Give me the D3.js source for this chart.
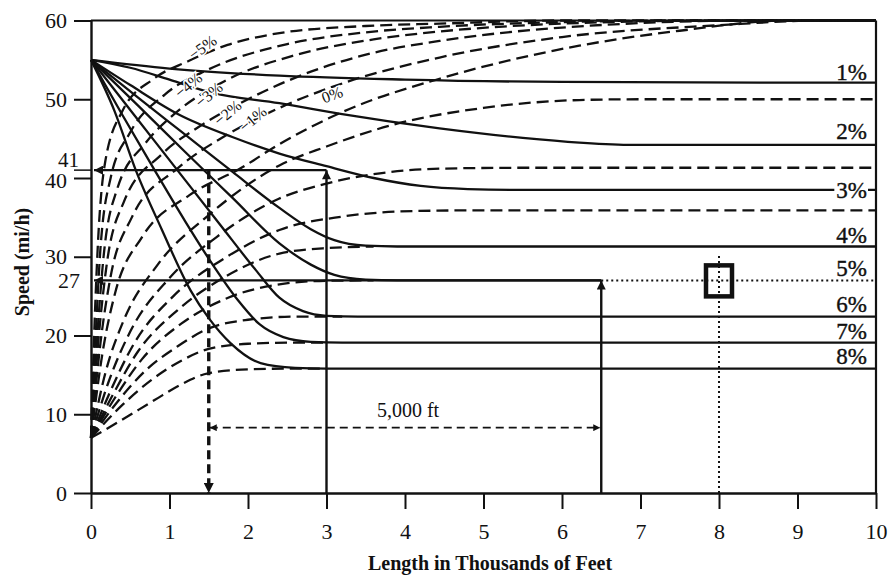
<!DOCTYPE html>
<html><head><meta charset="utf-8">
<script src="https://cdn.jsdelivr.net/npm/d3@7/dist/d3.min.js"></script>
<style>
body{margin:0;background:#fff}
svg{display:block}
text{font-family:"Liberation Serif","Times New Roman",serif;fill:#111}
</style>
</head><body>
<svg id="c" width="891" height="576"></svg>
<script>
// ---------- data ----------
const xTicks = [0,1,2,3,4,5,6,7,8,9,10];
const yTicks = [0,10,20,30,40,50,60];
const xTitle = "Length in Thousands of Feet";
const yTitle = "Speed (mi/h)";

// deceleration curves (solid), [length (1000 ft), speed (mi/h)]
const decel1 = [[0,55],[1,53.9],[2.4,53.0],[4,52.5],[6,52.2],[10,52.1]];
const decel2 = [[0,55],[0.5,54],[1,52.5],[1.55,50.8],[2.4,49.5],[3.2,48.1],[4.44,46.3],[5.5,45.1],[6.22,44.5],[6.9,44.2],[10,44.2]];
const decel3 = [[0,55],[0.5,51.8],[1.13,48.0],[1.8,45.2],[2.4,43.1],[3,41.5],[3.6,40.0],[4.2,39.0],[4.8,38.6],[5.4,38.5],[10,38.5]];
const decel4 = [[0,55],[0.6,50.2],[1.2,45.5],[1.8,40.8],[2.4,36.2],[2.8,33.5],[3.1,32.1],[3.5,31.4],[3.9,31.3],[10,31.3]];
const decel5 = [[0,55],[0.6,49.2],[1.2,43.3],[1.8,37.5],[2.4,31.7],[2.8,29.0],[3.1,27.7],[3.5,27.1],[3.9,27.0],[6.5,27.0]];
const decel6 = [[0,55],[0.55,48],[1.1,41],[1.65,34],[2.1,28.3],[2.4,24.8],[2.7,23.1],[3.0,22.5],[3.4,22.4],[10,22.4]];
const decel7 = [[0,55],[0.4,48],[0.81,41],[1.2,34.5],[1.55,29],[1.87,24.5],[2.15,21.4],[2.45,19.8],[2.8,19.2],[3.2,19.1],[10,19.1]];
const decel8 = [[0,55],[0.3,48.5],[0.57,41],[0.9,33.5],[1.27,25.7],[1.5,22.2],[1.78,19],[2.16,16.5],[2.6,15.9],[3,15.8],[10,15.8]];
const decelGrades = ["1%","2%","3%","4%","5%","6%","7%","8%"];
// label baseline speed for right-hand grade labels
const decelLabelSpeed = [52.4,44.9,37.5,31.7,27.6,23.0,19.6,16.4];

// acceleration curves (dashed)
const accelM5 = [[0,7],[0.04,20],[0.09,32],[0.18,42],[0.4,48.5],[0.8,52.6],[1.23,54.8],[1.74,56.9],[2.4,58.4],[3.5,59.3],[4.44,59.6],[6,60],[10,60]];
const accelM4 = [[0,7],[0.06,20],[0.12,31],[0.25,40],[0.5,45.8],[0.94,50.6],[1.5,53.8],[2.5,57.0],[3.5,58.5],[4.44,59.2],[6,59.8],[7.5,60],[10,60]];
const accelM3 = [[0,7],[0.08,20],[0.16,30],[0.33,38.5],[0.7,44.5],[1.07,48.2],[1.7,52.3],[2.6,55.6],[3.6,57.6],[4.44,58.6],[6,59.6],[8,60],[10,60]];
const accelM2 = [[0,7],[0.1,20],[0.2,29],[0.42,37],[0.9,43],[1.39,46.6],[2,50],[2.8,53.5],[3.6,55.9],[4.44,57.4],[6,59.1],[8.5,60],[10,60]];
const accelM1 = [[0,7],[0.12,19],[0.25,27.5],[0.52,35],[1.1,41.2],[1.7,45.3],[2.4,48.9],[3.2,52.0],[4.44,55.3],[6,57.9],[8,59.4],[9.3,60],[10,60]];
const accel0  = [[0,7],[0.15,18],[0.31,25.5],[0.65,32.5],[1.25,37.8],[1.9,41.2],[2.4,44.3],[3.3,48.8],[4.44,52.6],[6.22,56.8],[7.5,58.7],[8.9,60],[10,60]];
const accel1  = [[0,7],[0.19,15.5],[0.42,22],[0.85,29],[1.5,35.3],[2.4,41.6],[3.0,44.0],[3.9,46.9],[5,48.9],[6.22,49.9],[7,50],[10,50]];
const accel2  = [[0,7],[0.22,14],[0.5,20.5],[1,27.3],[1.6,32.5],[2.4,37.4],[3,39.3],[3.68,40.6],[4.5,41.2],[5.5,41.3],[10,41.3]];
const accel3  = [[0,7],[0.25,13],[0.55,19],[1.05,25],[1.7,29.8],[2.4,33.4],[3.2,35.1],[4.1,35.8],[5,35.9],[10,35.9]];
const accel4  = [[0,7],[0.28,12.5],[0.6,18],[1.1,23.2],[1.7,27.4],[2.4,30.4],[3,31.1],[3.6,31.3]];
const accel5  = [[0,7],[0.3,12],[0.65,17],[1.15,21.5],[1.7,24.6],[2.4,26.5],[3,26.95],[3.6,27.0]];
const accel6  = [[0,7],[0.33,11.5],[0.7,15.6],[1.1,18.6],[1.5,20.9],[2,22.0],[2.6,22.4],[3.2,22.4]];
const accel7  = [[0,7],[0.36,10.8],[0.75,14.2],[1.15,16.8],[1.5,18.3],[2,18.95],[2.6,19.1],[3.0,19.1]];
const accel8  = [[0,7],[0.38,9.2],[0.81,11.8],[1.15,13.8],[1.49,15.2],[2,15.7],[2.6,15.8],[3.0,15.8]];
const accelLabels = ["\u22125%","\u22124%","\u22123%","\u22122%","\u22121%","0%"];
const accelLabelX = [1.42,1.24,1.5,1.74,2.06,3.07];
const accelLabelV = [56.6,51.8,50.6,48.3,47.5,50.6];
const accelLabelRot = [-36,-40,-40,-40,-40,-20];

// worked example annotations
const markSpeeds = [41, 27];
const markLengths = [3, 6.5];
const dropLength = 1.5;
const spanLengths = [1.5, 6.5];
const spanSpeed = 8.3;
const spanLabel = "5,000 ft";
const checkLength = 8;
const checkSpeed = 27;

// ---------- drawing ----------
const svg = d3.select("#c");
const X = d3.scaleLinear().domain([0,10]).range([91,876]);
const Y = d3.scaleLinear().domain([0,60]).range([493,20.5]);
const ink = "#111";

const defs = svg.append("defs");
function marker(id, w, h, rev){
  defs.append("marker").attr("id",id).attr("viewBox","0 0 10 10")
    .attr("refX",rev?0:10).attr("refY",5).attr("markerUnits","userSpaceOnUse")
    .attr("markerWidth",w).attr("markerHeight",h).attr("orient","auto")
    .append("path").attr("d",rev?"M10,0 L0,5 L10,10 Z":"M0,0 L10,5 L0,10 Z").attr("fill",ink);
}
marker("ah",13,9);
marker("ahs",10,7);
marker("ahsStart",10,7,true);
marker("ahd",15,10);

const line = d3.line().x(d=>X(d[0])).y(d=>Y(d[1])).curve(d3.curveMonotoneX);

// frame
svg.append("line").attr("x1",X(0)).attr("x2",X(10)).attr("y1",Y(60)).attr("y2",Y(60)).attr("stroke",ink).attr("stroke-width",2.2);
svg.append("line").attr("x1",X(10)).attr("x2",X(10)).attr("y1",Y(60)).attr("y2",Y(0)).attr("stroke",ink).attr("stroke-width",2.2);

// curves
const accel = [accelM5,accelM4,accelM3,accelM2,accelM1,accel0,accel1,accel2,accel3,accel4,accel5,accel6,accel7,accel8];
svg.append("g").selectAll("path").data(accel).join("path")
  .attr("d",line).attr("fill","none").attr("stroke",ink).attr("stroke-width",2.3)
  .attr("stroke-dasharray","12,6");
const decel = [decel1,decel2,decel3,decel4,decel5,decel6,decel7,decel8];
svg.append("g").selectAll("path").data(decel).join("path")
  .attr("d",line).attr("fill","none").attr("stroke",ink).attr("stroke-width",2.3);

// axes
const yAxis = d3.axisLeft(Y).tickValues(yTicks).tickSize(17).tickSizeOuter(0).tickPadding(7);
const gy = svg.append("g").attr("transform",`translate(${X(0)},0)`).call(yAxis);
const xAxis = d3.axisBottom(X).tickValues(xTicks).tickSize(16).tickSizeOuter(0).tickPadding(14);
const gx = svg.append("g").attr("transform",`translate(0,${Y(0)})`).call(xAxis);
[gx,gy].forEach(g=>{
  g.select(".domain").attr("stroke",ink).attr("stroke-width",2.4);
  g.selectAll(".tick line").attr("stroke",ink).attr("stroke-width",2);
  g.selectAll(".tick text").attr("font-family","Liberation Serif").attr("font-size",22).attr("fill",ink);
});
gy.selectAll(".tick text").filter(d=>d===40).attr("dy","0.45em");

// titles
svg.append("text").attr("x",490).attr("y",570).attr("text-anchor","middle")
  .attr("font-weight","bold").attr("font-size",20).text(xTitle);
svg.append("text").attr("transform","translate(29,262) rotate(-90)").attr("text-anchor","middle")
  .attr("font-weight","bold").attr("font-size",20).text(yTitle);

// grade labels on right
decelGrades.forEach((g,i)=>{
  const t = svg.append("text").attr("x",X(10)-9).attr("y",Y(decelLabelSpeed[i])).attr("text-anchor","end")
    .attr("font-size",23).attr("stroke",ink).attr("stroke-width",0.4).text(g);
  if(i===2){
    const bb = t.node().getBBox();
    svg.insert("rect", () => t.node()).attr("x",bb.x-2).attr("y",bb.y+4).attr("width",bb.width+3).attr("height",bb.height-8).attr("fill","#fff");
  }
});

// acceleration curve labels
accelLabels.forEach((s,i)=>{
  svg.append("text").attr("transform",`translate(${X(accelLabelX[i])},${Y(accelLabelV[i])}) rotate(${accelLabelRot[i]})`)
    .attr("text-anchor","middle").attr("dy","0.35em").attr("font-size",16)
    .attr("stroke","#fff").attr("stroke-width",3).attr("paint-order","stroke").text(s);
});

// worked example: speed lines with arrows to axis
svg.append("line").attr("x1",X(markLengths[0])).attr("x2",X(0)+3).attr("y1",Y(markSpeeds[0])).attr("y2",Y(markSpeeds[0]))
  .attr("stroke",ink).attr("stroke-width",2.4).attr("marker-end","url(#ah)");
svg.append("line").attr("x1",X(0)-17).attr("x2",X(0)).attr("y1",Y(markSpeeds[0])).attr("y2",Y(markSpeeds[0]))
  .attr("stroke",ink).attr("stroke-width",1.5);
svg.append("line").attr("x1",X(markLengths[1])).attr("x2",X(0)+3).attr("y1",Y(markSpeeds[1])).attr("y2",Y(markSpeeds[1]))
  .attr("stroke",ink).attr("stroke-width",2.4).attr("marker-end","url(#ah)");
// vertical arrows up from length axis
markLengths.forEach((L,i)=>{
  svg.append("line").attr("x1",X(L)).attr("x2",X(L)).attr("y1",Y(0)).attr("y2",Y(markSpeeds[i]))
    .attr("stroke",ink).attr("stroke-width",2.4).attr("marker-end","url(#ah)");
});
// extra speed labels
svg.append("text").attr("x",79).attr("y",Y(markSpeeds[0])-3).attr("text-anchor","end").attr("font-size",21).text(String(markSpeeds[0]));
svg.append("text").attr("x",80).attr("y",Y(markSpeeds[1])).attr("dy","0.35em").attr("text-anchor","end").attr("font-size",22).text(String(markSpeeds[1]));

// dashed drop line at 1.5
svg.append("line").attr("x1",X(dropLength)).attr("x2",X(dropLength)).attr("y1",Y(markSpeeds[0])).attr("y2",Y(0))
  .attr("stroke",ink).attr("stroke-width",3.4).attr("stroke-dasharray","9,5").attr("marker-end","url(#ahd)");

// 5,000 ft span
svg.append("line").attr("x1",X(spanLengths[0])+1).attr("x2",X(spanLengths[1])-1).attr("y1",Y(spanSpeed)).attr("y2",Y(spanSpeed))
  .attr("stroke",ink).attr("stroke-width",1.8).attr("stroke-dasharray","8,5")
  .attr("marker-start","url(#ahsStart)").attr("marker-end","url(#ahs)");
svg.append("text").attr("x",(X(spanLengths[0])+X(spanLengths[1]))/2+3).attr("y",Y(spanSpeed)-11)
  .attr("text-anchor","middle").attr("font-size",20).text(spanLabel);

// dotted check line and box
svg.append("line").attr("x1",X(markLengths[1])).attr("x2",X(10)).attr("y1",Y(checkSpeed)).attr("y2",Y(checkSpeed))
  .attr("stroke",ink).attr("stroke-width",2).attr("stroke-dasharray","2,3");
svg.append("line").attr("x1",X(checkLength)).attr("x2",X(checkLength)).attr("y1",Y(0)).attr("y2",Y(checkSpeed)-25)
  .attr("stroke",ink).attr("stroke-width",2).attr("stroke-dasharray","2,3");
svg.append("rect").attr("x",X(checkLength)-13).attr("y",Y(checkSpeed)-15).attr("width",26).attr("height",31)
  .attr("fill","none").attr("stroke",ink).attr("stroke-width",4.5);
</script>
</body></html>
